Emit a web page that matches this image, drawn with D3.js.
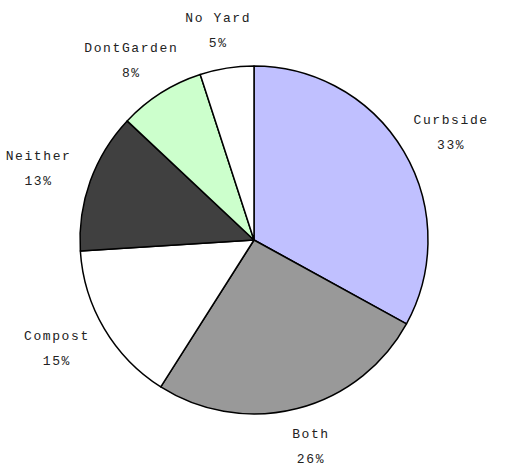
<!DOCTYPE html>
<html>
<head>
<meta charset="utf-8">
<script src="https://cdn.jsdelivr.net/npm/d3@7"></script>
<style>
    body { margin: 0; background: #fff; }
    svg { display: block; }
    .lbl { font-family: "Liberation Mono", "DejaVu Sans Mono", monospace; font-size: 13px; letter-spacing: 1.6px; fill: #222; }
</style>
</head>
<body>
<div id="main"></div>
<script>
// categories and shares (percent)
var categories = ['Curbside', 'Both', 'Compost', 'Neither', 'DontGarden', 'No Yard'];
var values = [33, 26, 15, 13, 8, 5];
var colors = ['#c0c0ff', '#999999', '#ffffff', '#404040', '#ccffcc', '#ffffff'];

var width = 506, height = 466;
var cx = 254, cy = 240, radius = 174;
// labels sit on an ellipse around the pie
var labelRx = 229, labelRy = 213;

var svg = d3.select('#main')
    .append('svg')
    .attr('width', width)
    .attr('height', height);

var g = svg.append('g')
    .attr('transform', 'translate(' + cx + ',' + cy + ')');

var data = categories.map(function (c, i) {
    return { name: c, value: values[i], color: colors[i] };
});

var pie = d3.pie()
    .sort(null)
    .value(function (d) { return d.value; });

var arc = d3.arc().innerRadius(0).outerRadius(radius);

var arcs = pie(data);

g.selectAll('path')
    .data(arcs)
    .enter()
    .append('path')
    .attr('d', arc)
    .attr('fill', function (d) { return d.data.color; })
    .attr('stroke', '#000')
    .attr('stroke-width', 1.5)
    .attr('stroke-linejoin', 'round');

// labels: name + percent, centred on the label ellipse
var lbl = g.selectAll('text')
    .data(arcs)
    .enter()
    .append('text')
    .attr('class', 'lbl')
    .attr('text-anchor', 'middle')
    .attr('transform', function (d) {
        var a = (d.startAngle + d.endAngle) / 2;
        var x = Math.sin(a) * labelRx, y = -Math.cos(a) * labelRy;
        return 'translate(' + x + ',' + y + ')';
    });

lbl.append('tspan')
    .attr('x', 0)
    .attr('y', -8)
    .text(function (d) { return d.data.name; });

lbl.append('tspan')
    .attr('x', 0)
    .attr('y', 17)
    .text(function (d) { return d.data.value + '%'; });
</script>
</body>
</html>
